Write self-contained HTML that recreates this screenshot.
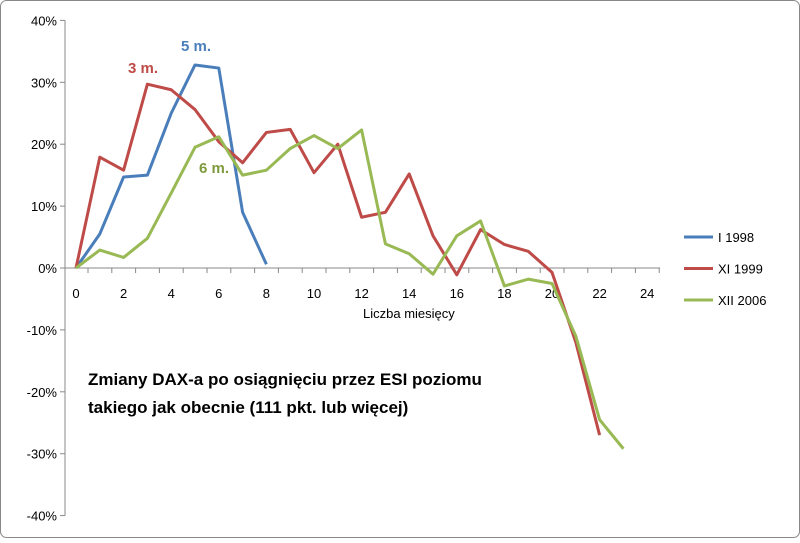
<!DOCTYPE html>
<html><head><meta charset="utf-8"><style>
body{margin:0;background:#fff;font-family:"Liberation Sans","DejaVu Sans",sans-serif}
svg text{font-family:"Liberation Sans","DejaVu Sans",sans-serif}
</style></head><body>
<svg id="c" width="800" height="538">
<rect x="0.5" y="0.5" width="799" height="537" rx="6" fill="#fff" stroke="#888"/>
<g id="axes"></g><g id="series"></g>
<text x="88" y="385" font-size="17" font-weight="bold" fill="#000">Zmiany DAX-a po osiągnięciu przez ESI poziomu</text>
<text x="88" y="413" font-size="17" font-weight="bold" fill="#000">takiego jak obecnie (111 pkt. lub więcej)</text>
<text x="181" y="51" font-size="15" font-weight="bold" fill="#4a7ebb">5 m.</text>
<text x="128" y="73" font-size="15" font-weight="bold" fill="#be4b48">3 m.</text>
<text x="199" y="173" font-size="15" font-weight="bold" fill="#7f9a3c">6 m.</text>
<text x="363" y="318" font-size="13" fill="#000">Liczba miesięcy</text>
</svg>
<script>
const yTicks=[40,30,20,10,0,-10,-20,-30,-40];
const xTicks=[0,2,4,6,8,10,12,14,16,18,20,22,24];
const seriesNames=["I 1998","XI 1999","XII 2006"];
const seriesColors=["#4a7ebb","#be4b48","#98b954"];
const s1998=[0,5.5,14.7,15,25,32.8,32.3,9,0.6];
const s1999=[0,17.9,15.8,29.7,28.8,25.6,20.4,17,21.9,22.4,15.4,20,8.2,9,15.2,5.2,-1.1,6.2,3.8,2.7,-0.7,-12,-27];
const s2006=[0,2.9,1.7,4.8,12.1,19.5,21.2,15,15.8,19.3,21.4,19.3,22.3,3.9,2.3,-1,5.2,7.6,-2.9,-1.8,-2.5,-11,-24.5,-29.2];
const NS="http://www.w3.org/2000/svg";
const X=m=>76+m*23.8, Y=v=>268-v*6.19;
const ax=document.getElementById('axes'), sg=document.getElementById('series');
function mk(t,a,p){const e=document.createElementNS(NS,t);for(const k in a)e.setAttribute(k,a[k]);p.appendChild(e);return e;}
let l=mk('line',{x1:65,y1:Y(40),x2:65,y2:Y(-40),stroke:'#888'},ax);


l=mk('line',{x1:65,y1:Y(0),x2:660,y2:Y(0),stroke:'#888'},ax);


yTicks.forEach(v=>{
 mk('line',{x1:60,y1:Y(v),x2:65,y2:Y(v),stroke:'#888'},ax);
 const t=mk('text',{x:57,y:Y(v)+5,'text-anchor':'end','font-size':13,fill:'#000'},ax);t.textContent=v+'%';
 
 
});
for(let m=0;m<=24;m++){mk('line',{x1:X(m)+12,y1:Y(0),x2:X(m)+12,y2:Y(0)+5,stroke:'#888'},ax);}
xTicks.forEach(m=>{
 const t=mk('text',{x:X(m),y:Y(0)+30,'text-anchor':'middle','font-size':13,fill:'#000'},ax);t.textContent=m;
 
 
});
[s1998,s1999,s2006].forEach((d,i)=>{
 const p=mk('polyline',{points:d.map((v,j)=>X(j)+','+Y(v)).join(' '),fill:'none',stroke:seriesColors[i],'stroke-width':3,'stroke-linejoin':'round'},sg);
 
 
 const ly=237+i*31.5;
 const g=mk('g',{},sg);
 
 
 mk('line',{x1:684,y1:ly,x2:713,y2:ly,stroke:seriesColors[i],'stroke-width':3},g);
 const t=mk('text',{x:718,y:ly+5,'font-size':13,fill:'#000'},g);t.textContent=seriesNames[i];
});
</script>
</body></html>
